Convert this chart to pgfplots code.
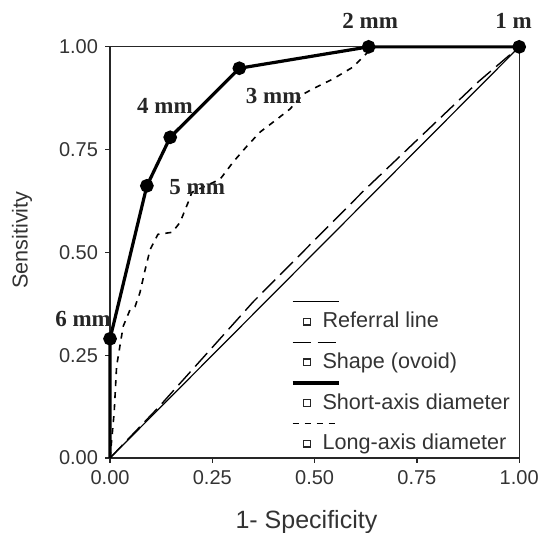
\documentclass[border=0pt]{standalone}
\usepackage{fontspec}
\setmainfont{Liberation Sans}
\newfontfamily\tnr{Liberation Serif}
\usepackage{pgfplots}
\pgfplotsset{compat=1.18}

\begin{document}
\begin{tikzpicture}
\begin{axis}[
  scale only axis, width=204.5pt, height=205.5pt,
  xmin=0, xmax=1, ymin=0, ymax=1,
  xtick={0,0.25,0.5,0.75,1}, ytick={0,0.25,0.5,0.75,1},
  tick pos=left, tick align=outside, major tick length=2.5pt,
  /pgf/number format/fixed, /pgf/number format/fixed zerofill,
  /pgf/number format/precision=2, /pgf/number format/assume math mode=true,
  tick label style={font=\fontsize{10}{12}\selectfont, text=black!80},
  axis line style={line width=0.6pt, black!85},
  tick style={line width=0.6pt, black!85},
  clip=false,
  xlabel={1- Specificity}, ylabel={Sensitivity},
  xlabel style={font=\fontsize{12.5}{14}\selectfont, text=black!80, at={(rel axis cs:0.48,-0.156)}, anchor=center},
  ylabel style={font=\fontsize{10.8}{13}\selectfont, text=black!80, at={(rel axis cs:-0.215,0.53)}, anchor=center},
  legend style={draw=none, fill=none, inner sep=0pt, at={(rel axis cs:0.445,0.365)}, anchor=north west,
    font=\fontsize{10.8}{13}\selectfont, text=black!80, row sep=7pt, cells={anchor=west}},
  legend image code/.code={
    \draw[#1, overlay] (0pt,10pt) -- (23pt,10pt);
    \path[draw=none, fill=none] (0pt,-2pt) rectangle (13pt,2pt);
    \draw[solid, black!85, line width=0.6pt, fill=white] (5.6pt,-1.7pt) rectangle (9pt,1.7pt);
  },
]
% referral line
\addplot[black, line width=0.6pt] coordinates {(0,0) (1,1)};
\addlegendentry{Referral line}
% shape (ovoid)
\addplot[black, line width=0.7pt, dash pattern=on 9pt off 3.5pt] coordinates {
  (0,0) (0.12,0.125) (0.35,0.38) (0.62,0.65) (0.9,0.915) (1,1)};
\addlegendentry{Shape (ovoid)}
% short-axis diameter
\addplot[black, line width=1.6pt, mark=*, mark size=2.6pt, mark indices={2,3,4,5,6,7}] coordinates {
  (0,0) (0,0.29) (0.09,0.662) (0.147,0.78) (0.316,0.948) (0.632,1.0) (1,1)};
\addlegendentry{Short-axis diameter}
% long-axis diameter
\addplot[black, line width=0.8pt, dash pattern=on 3pt off 3pt] coordinates {
  (0,0) (0.01,0.11) (0.016,0.223) (0.032,0.32) (0.049,0.361) (0.061,0.368)
  (0.073,0.402) (0.086,0.459) (0.098,0.507) (0.117,0.544) (0.152,0.549)
  (0.171,0.573) (0.191,0.622) (0.2,0.646) (0.269,0.678) (0.301,0.72)
  (0.335,0.759) (0.367,0.793) (0.408,0.824) (0.44,0.849) (0.472,0.885)
  (0.496,0.898) (0.545,0.922) (0.594,0.951) (0.631,0.988) (0.65,1) (1,1)};
\addlegendentry{Long-axis diameter}

\tikzset{ptlab/.style={font=\tnr\bfseries\fontsize{11.5}{13}\selectfont, text=black!85, inner sep=0pt}}
\node[ptlab] at (axis cs:0.636,1.063) {2 mm};
\node[ptlab, anchor=west] at (axis cs:0.941,1.063) {1 m};
\node[ptlab] at (axis cs:0.4,0.88) {3 mm};
\node[ptlab] at (axis cs:0.134,0.856) {4 mm};
\node[ptlab] at (axis cs:0.213,0.658) {5 mm};
\node[ptlab] at (axis cs:-0.066,0.337) {6 mm};

\coordinate (bbl) at (rel axis cs:-0.269,-0.182);
\coordinate (btr) at (rel axis cs:1.046,1.114);
\end{axis}
\pgfresetboundingbox
\path[use as bounding box] (bbl) rectangle (btr);
\end{tikzpicture}
\end{document}
